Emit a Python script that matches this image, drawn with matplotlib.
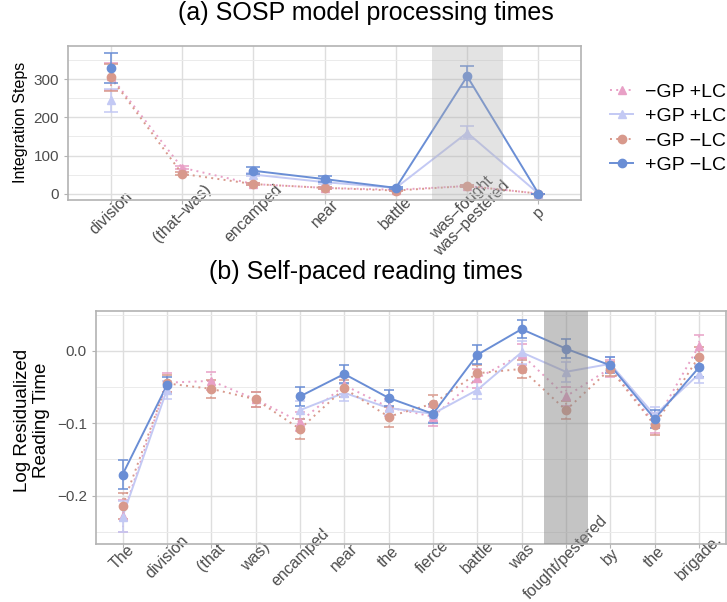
import numpy as np
import matplotlib.pyplot as plt
from matplotlib.lines import Line2D
from matplotlib.transforms import ScaledTranslation

plt.rcParams['font.family'] = ['Liberation Sans', 'DejaVu Sans']

# ---- (a) SOSP model processing times ----
words_a = ['division', '(that\u2013was)', 'encamped', 'near', 'battle',
           'was\u2013fought\nwas\u2013pestered', 'p']
# np.nan where the condition has no point
a_mgp_plc = [308, 68, 25, 15, 10, 20, 0]
a_mgp_plc_err = [35, 4, 3, 2, 2, 3, 0]
a_pgp_plc = [245, np.nan, 50, 30, 15, 160, 0]
a_pgp_plc_err = [30, np.nan, 5, 4, 3, 17, 0]
a_mgp_mlc = [305, 52, 25, 15, 8, 20, 0]
a_mgp_mlc_err = [35, 4, 3, 2, 2, 3, 0]
a_pgp_mlc = [330, np.nan, 60, 38, 15, 308, 0]
a_pgp_mlc_err = [39, np.nan, 9, 7, 3, 28, 0]

# ---- (b) Self-paced reading times ----
words_b = ['The', 'division', '(that', 'was)', 'encamped', 'near', 'the', 'fierce',
           'battle', 'was', 'fought/pestered', 'by', 'the', 'brigade.']
b_mgp_plc = [-0.228, -0.044, -0.0415, -0.067, -0.098, -0.0475, -0.078, -0.091,
             -0.038, -0.005, -0.063, -0.024, -0.100, 0.007]
b_mgp_plc_err = [0.022, 0.013, 0.012, 0.010, 0.013, 0.012, 0.012, 0.013,
                 0.013, 0.015, 0.013, 0.012, 0.014, 0.015]
b_pgp_plc = [-0.229, -0.054, np.nan, np.nan, -0.082, -0.058, -0.079, -0.087,
             -0.054, -0.002, -0.029, -0.018, -0.089, -0.032]
b_pgp_plc_err = [0.022, 0.012, np.nan, np.nan, 0.012, 0.012, 0.010, 0.012,
                 0.013, 0.016, 0.014, 0.010, 0.012, 0.012]
b_mgp_mlc = [-0.214, -0.045, -0.0525, -0.067, -0.108, -0.052, -0.091, -0.073,
             -0.031, -0.025, -0.082, -0.025, -0.103, -0.008]
b_mgp_mlc_err = [0.018, 0.012, 0.012, 0.010, 0.014, 0.012, 0.014, 0.012,
                 0.012, 0.013, 0.012, 0.010, 0.013, 0.014]
b_pgp_mlc = [-0.171, -0.0476, np.nan, np.nan, -0.063, -0.032, -0.065, -0.087,
             -0.0055, 0.030, 0.003, -0.020, -0.094, -0.023]
b_pgp_mlc_err = [0.020, 0.012, np.nan, np.nan, 0.013, 0.012, 0.011, 0.013,
                 0.013, 0.012, 0.013, 0.011, 0.012, 0.013]

col_pink = '#e8a0c6'
col_lav = '#c3c9f4'
col_salmon = '#d8998c'
col_blue = '#6a8ed5'
dots = (0, (1, 2.2))

series_style = [
    ('\u2212GP +LC', col_pink, dots, '^'),
    ('+GP +LC', col_lav, '-', '^'),
    ('\u2212GP \u2212LC', col_salmon, dots, 'o'),
    ('+GP \u2212LC', col_blue, '-', 'o'),
]


def draw_series(ax, vals, errs, color, ls, marker, cap):
    x = np.arange(len(vals))
    vals = np.array(vals, dtype=float)
    errs = np.array(errs, dtype=float)
    ok = ~np.isnan(vals)
    ax.plot(x, vals, color=color, linestyle=ls, lw=1.4, zorder=3)
    ax.plot(x[ok], vals[ok], color=color, linestyle='none', marker=marker, ms=6, zorder=4)
    eb = ax.errorbar(x[ok], vals[ok], yerr=errs[ok], fmt='none', ecolor=color,
                     elinewidth=1.1, capsize=cap, capthick=1.1, zorder=3)
    for c in eb[2]:
        c.set_linestyle(ls)


def style_axes(ax, labels, xlim, ylim, yticks, yminor):
    ax.set_xlim(*xlim)
    ax.set_ylim(*ylim)
    ax.set_xticks(np.arange(len(labels)))
    ax.set_xticklabels(labels, rotation=45, ha='center', va='center',
                       fontsize=11.5, color='#4d4d4d', linespacing=0.95)
    shift = ScaledTranslation(5 / 100, 0, fig.dpi_scale_trans)
    for lab in ax.get_xticklabels():
        lab.set_transform(lab.get_transform() + shift)
    ax.set_yticks(yticks)
    ax.set_yticks(yminor, minor=True)
    ax.tick_params(axis='y', labelsize=11, labelcolor='#4d4d4d', color='#b3b3b3', length=3)
    ax.tick_params(axis='y', which='minor', length=0)
    ax.tick_params(axis='x', color='#b3b3b3', length=3, pad=6.5)
    ax.grid(True, which='major', color='#dedede', lw=1.0, zorder=0)
    ax.grid(True, which='minor', axis='y', color='#ebebeb', lw=0.7, zorder=0)
    ax.set_axisbelow(True)
    for s in ax.spines.values():
        s.set_color('#b3b3b3')
        s.set_linewidth(1.2)


fig = plt.figure(figsize=(7.27, 6.02), dpi=100)

# top panel
ax1 = fig.add_axes([0.0935, 0.668, 0.706, 0.2558])
draw_series(ax1, a_mgp_plc, a_mgp_plc_err, col_pink, dots, '^', 5)
draw_series(ax1, a_pgp_plc, a_pgp_plc_err, col_lav, '-', '^', 5)
draw_series(ax1, a_mgp_mlc, a_mgp_mlc_err, col_salmon, dots, 'o', 5)
draw_series(ax1, a_pgp_mlc, a_pgp_mlc_err, col_blue, '-', 'o', 5)
ax1.axvspan(4.5, 5.5, color='#b0b0b0', alpha=0.35, lw=0, zorder=5)
style_axes(ax1, words_a, (-0.6, 6.6), (-16.5, 388), [0, 100, 200, 300], [50, 150, 250, 350])
ax1.set_ylabel('Integration Steps', fontsize=11.5, labelpad=4)
fig.text(0.5035, 0.9668, '(a) SOSP model processing times', fontsize=18,
         ha='center', va='baseline')

handles = [Line2D([0], [0], color=c, linestyle=ls, lw=1.4, marker=m, ms=6)
           for (_, c, ls, m) in series_style]
leg = fig.legend(handles, [s[0] for s in series_style], loc='upper left',
                 bbox_to_anchor=(0.839, 0.862), frameon=False, fontsize=14,
                 handlelength=1.2, labelspacing=0.35, handletextpad=0.62,
                 borderpad=0, borderaxespad=0)

# bottom panel
ax2 = fig.add_axes([0.132, 0.0963, 0.866, 0.387])
draw_series(ax2, b_mgp_plc, b_mgp_plc_err, col_pink, dots, '^', 3.5)
draw_series(ax2, b_pgp_plc, b_pgp_plc_err, col_lav, '-', '^', 3.5)
draw_series(ax2, b_mgp_mlc, b_mgp_mlc_err, col_salmon, dots, 'o', 3.5)
draw_series(ax2, b_pgp_mlc, b_pgp_mlc_err, col_blue, '-', 'o', 3.5)
ax2.axvspan(9.5, 10.5, color='#8a8a8a', alpha=0.5, lw=0, zorder=5)
style_axes(ax2, words_b, (-0.6, 13.6), (-0.267, 0.055), [-0.2, -0.1, 0.0],
           [-0.25, -0.15, -0.05, 0.05])
ax2.set_yticklabels(['\u22120.2', '\u22120.1', '0.0'])
fig.text(32 / 727, 0.302, 'Log Residualized\nReading Time', fontsize=13.5,
         rotation=90, ha='center', va='center', linespacing=1.1)
fig.text(0.5035, 0.5365, '(b) Self-paced reading times', fontsize=18,
         ha='center', va='baseline')

fig.savefig('out.png', dpi=100)
